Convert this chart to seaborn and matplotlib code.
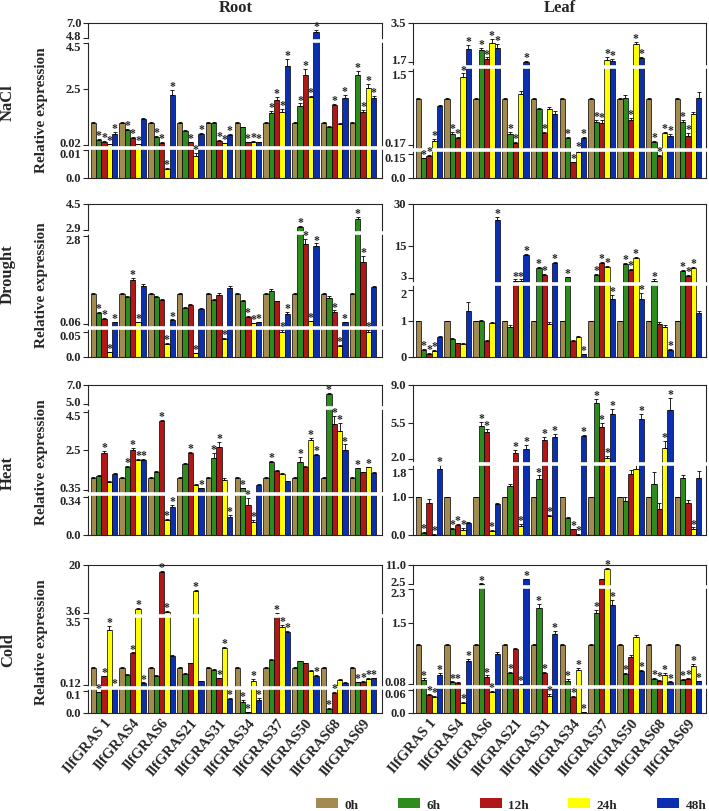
import numpy as np
import pandas as pd
import matplotlib
matplotlib.use("Agg")
import matplotlib.pyplot as plt
import matplotlib.transforms as mtrans
import seaborn as sns
from matplotlib.patches import Patch
from matplotlib.container import BarContainer

# ---------------- data ----------------
genes = ["IlfGRAS 1", "IlfGRAS4", "IlfGRAS6", "IlfGRAS21", "IlfGRAS31",
         "IlfGRAS34", "IlfGRAS37", "IlfGRAS50", "IlfGRAS68", "IlfGRAS69"]
times = ["0h", "6h", "12h", "24h", "48h"]
colors = ["#A38A4E", "#2E8B1E", "#B01818", "#FFFF00", "#0A2FB0"]

root_nacl = [[1.0, 0.24, 0.16, 0.06, 0.52], [1.0, 0.68, 0.33, 0.06, 1.16],
             [1.0, 0.36, 0.12, 0.0033, 2.24], [1.0, 0.65, 0.14, 0.0078, 0.52],
             [1.0, 0.97, 0.21, 0.11, 0.46], [1.0, 0.80, 0.14, 0.17, 0.14],
             [1.0, 1.42, 2.02, 1.49, 3.51], [1.0, 1.75, 3.10, 2.12, 5.66],
             [1.0, 0.80, 1.78, 0.95, 2.09], [1.0, 3.10, 1.49, 2.52, 2.09]]
root_nacl_err = [[0.04, 0.03, 0.03, 0.02, 0.06], [0.04, 0.06, 0.04, 0.02, 0.03],
                 [0.04, 0.04, 0.02, 0.0005, 0.2], [0.04, 0.03, 0.03, 0.001, 0.04],
                 [0.04, 0.06, 0.03, 0.02, 0.04], [0.04, 0.03, 0.03, 0.02, 0.02],
                 [0.04, 0.1, 0.1, 0.12, 0.3], [0.04, 0.1, 0.25, 0.08, 0.3],
                 [0.04, 0.05, 0.05, 0.04, 0.12], [0.04, 0.2, 0.08, 0.2, 0.1]]
root_nacl_sig = ["01111", "01110", "01111", "00111", "00111",
                 "00111", "01111", "01111", "00101", "01111"]
root_nacl_ticks = ["0.0", "0.01", "0.02", "2.5", "4.5", "4.8", "7.0"]

leaf_nacl = [[1.0, 0.123, 0.14, 0.25, 0.86], [1.0, 0.37, 0.29, 1.39, 2.33],
             [1.0, 2.28, 1.86, 2.60, 2.37], [1.0, 0.37, 0.20, 1.08, 1.72],
             [1.0, 0.81, 0.38, 0.82, 0.72], [1.0, 0.29, 0.098, 0.155, 0.30],
             [1.0, 0.58, 0.57, 1.82, 1.78], [1.0, 1.02, 0.61, 2.56, 1.90],
             [1.0, 0.22, 0.14, 0.38, 0.34], [1.0, 0.58, 0.34, 0.72, 1.02]]
leaf_nacl_err = [[0.02, 0.003, 0.003, 0.02, 0.02], [0.02, 0.03, 0.02, 0.06, 0.15],
                 [0.02, 0.08, 0.06, 0.15, 0.15], [0.02, 0.03, 0.02, 0.06, 0.06],
                 [0.02, 0.03, 0.03, 0.03, 0.06], [0.02, 0.02, 0.003, 0.003, 0.02],
                 [0.02, 0.04, 0.04, 0.12, 0.06], [0.02, 0.04, 0.04, 0.08, 0.06],
                 [0.02, 0.02, 0.003, 0.03, 0.03], [0.02, 0.04, 0.04, 0.04, 0.1]]
leaf_nacl_sig = ["01110", "01111", "01111", "01101", "00100",
                 "01111", "01111", "00111", "01111", "01100"]
leaf_nacl_ticks = ["0.0", "0.15", "0.17", "1.5", "1.7", "3.5"]

root_drought = [[1.0, 0.40, 0.215, 0.0087, 0.11], [1.0, 0.89, 1.42, 0.11, 1.23],
                [1.0, 0.91, 0.80, 0.025, 0.18], [1.0, 0.56, 0.65, 0.0067, 0.53],
                [1.0, 0.80, 0.96, 0.035, 1.18], [1.0, 0.76, 0.27, 0.08, 0.11],
                [1.0, 1.09, 0.76, 0.049, 0.37], [1.0, 3.05, 2.54, 0.14, 2.49],
                [1.0, 0.87, 0.44, 0.022, 0.11], [1.0, 3.57, 1.97, 0.049, 1.20]]
root_drought_err = [[0.03, 0.03, 0.03, 0.001, 0.02], [0.03, 0.03, 0.08, 0.02, 0.06],
                    [0.03, 0.03, 0.03, 0.002, 0.02], [0.03, 0.02, 0.02, 0.001, 0.03],
                    [0.03, 0.05, 0.05, 0.003, 0.07], [0.03, 0.03, 0.03, 0.01, 0.02],
                    [0.03, 0.07, 0.02, 0.003, 0.05], [0.03, 0.1, 0.15, 0.02, 0.07],
                    [0.03, 0.07, 0.04, 0.002, 0.02], [0.03, 0.15, 0.2, 0.003, 0.04]]
root_drought_sig = ["01111", "00110", "00011", "00010", "00010",
                    "00111", "00011", "01111", "00111", "01110"]
root_drought_ticks = ["0.0", "0.05", "0.06", "2.8", "2.9", "4.5"]

leaf_drought = [[1.0, 0.19, 0.09, 0.17, 0.55], [1.0, 0.50, 0.38, 0.36, 1.32],
                [1.0, 1.00, 0.43, 0.94, 24.4], [1.0, 0.83, 2.8, 2.8, 11.7],
                [1.0, 6.8, 4.3, 0.91, 8.6], [1.0, 3.4, 0.45, 0.57, 0.075],
                [1.0, 4.3, 8.6, 7.3, 1.7], [1.0, 8.2, 6.1, 10.4, 1.7],
                [1.0, 2.8, 0.91, 0.83, 0.19], [1.0, 5.8, 4.0, 6.8, 1.27]]
leaf_drought_err = [[0.02, 0.02, 0.01, 0.02, 0.03], [0.02, 0.04, 0.02, 0.02, 0.3],
                    [0.02, 0.03, 0.03, 0.05, 1.0], [0.02, 0.07, 0.1, 0.1, 0.4],
                    [0.02, 0.3, 0.3, 0.06, 0.4], [0.02, 0.15, 0.03, 0.02, 0.01],
                    [0.02, 0.3, 0.3, 0.3, 0.15], [0.02, 0.3, 0.4, 0.4, 0.2],
                    [0.02, 0.1, 0.06, 0.06, 0.03], [0.02, 0.3, 0.3, 0.3, 0.06]]
leaf_drought_sig = ["01110", "00000", "00001", "00111", "01101",
                    "01001", "01111", "01111", "01001", "01110"]
leaf_drought_ticks = ["0", "1", "2", "3", "15", "30"]

root_heat = [[1.0, 1.08, 2.30, 0.79, 1.20], [1.0, 1.56, 2.50, 1.95, 1.95],
             [1.0, 1.33, 4.01, 0.133, 0.25], [1.0, 1.74, 2.30, 0.63, 0.44],
             [1.0, 2.06, 2.66, 0.88, 0.159], [1.0, 0.44, 0.27, 0.117, 0.62],
             [1.0, 1.86, 1.38, 1.20, 0.81], [1.0, 1.86, 1.59, 3.01, 2.21],
             [1.0, 6.03, 3.87, 3.48, 2.48], [1.0, 1.50, 1.29, 1.56, 1.26]]
root_heat_err = [[0.04, 0.05, 0.15, 0.04, 0.05], [0.04, 0.05, 0.08, 0.05, 0.05],
                 [0.04, 0.04, 0.08, 0.01, 0.02], [0.04, 0.04, 0.06, 0.05, 0.04],
                 [0.04, 0.25, 0.25, 0.1, 0.02], [0.04, 0.04, 0.06, 0.015, 0.04],
                 [0.04, 0.05, 0.04, 0.04, 0.03], [0.04, 0.25, 0.05, 0.12, 0.08],
                 [0.04, 0.15, 0.4, 0.45, 0.3], [0.04, 0.05, 0.04, 0.04, 0.04]]
root_heat_sig = ["00100", "01111", "00111", "00101", "01101",
                 "01110", "01000", "01011", "01111", "01010"]
root_heat_ticks = ["0.0", "0.34", "0.35", "2.5", "4.5", "5.0", "7.0"]

leaf_heat = [[1.0, 0.05, 0.84, 0.01, 1.80], [1.0, 0.16, 0.27, 0.14, 0.33],
             [1.0, 5.2, 4.57, 0.11, 0.83], [1.0, 1.33, 2.55, 0.25, 2.96],
             [1.0, 1.51, 3.86, 0.51, 4.09], [1.0, 0.46, 0.15, 0.01, 4.25],
             [1.0, 7.3, 5.05, 2.1, 6.34], [1.0, 0.91, 1.64, 1.79, 5.83],
             [1.0, 1.37, 0.70, 3.10, 6.70], [1.0, 1.53, 0.86, 0.16, 1.54]]
leaf_heat_err = [[0.02, 0.02, 0.12, 0.01, 0.07], [0.02, 0.03, 0.03, 0.05, 0.02],
                 [0.02, 0.4, 0.3, 0.03, 0.02], [0.02, 0.04, 0.3, 0.05, 0.4],
                 [0.02, 0.1, 0.3, 0.03, 0.3], [0.02, 0.02, 0.02, 0.01, 0.1],
                 [0.02, 0.4, 0.4, 0.2, 0.4], [0.02, 0.1, 0.12, 0.12, 0.5],
                 [0.02, 0.35, 0.15, 0.6, 1.1], [0.02, 0.1, 0.08, 0.04, 0.2]]
leaf_heat_sig = ["01011", "01110", "01110", "00111", "01111",
                 "00111", "01111", "00001", "00011", "00010"]
leaf_heat_ticks = ["0.0", "1.0", "1.8", "2.0", "5.5", "9.0"]

root_cold = [[1.0, 0.093, 0.56, 2.92, 0.11], [1.0, 0.63, 1.72, 4.97, 0.22],
             [1.0, 0.59, 17.5, 4.05, 1.61], [1.0, 0.68, 1.22, 11.2, 0.31],
             [1.0, 0.88, 0.46, 2.0, 0.063], [1.0, 0.048, 0.003, 0.34, 0.06],
             [1.0, 1.40, 3.55, 3.04, 2.82], [1.0, 1.32, 1.22, 0.85, 0.59],
             [1.0, 0.02, 0.09, 0.38, 0.22], [1.0, 0.25, 0.28, 0.42, 0.46]]
root_cold_err = [[0.03, 0.003, 0.03, 0.2, 0.003], [0.03, 0.03, 0.05, 0.2, 0.03],
                 [0.03, 0.03, 0.4, 0.2, 0.03], [0.03, 0.03, 0.03, 0.2, 0.03],
                 [0.03, 0.03, 0.03, 0.06, 0.004], [0.03, 0.01, 0.002, 0.1, 0.008],
                 [0.03, 0.03, 0.15, 0.1, 0.05], [0.03, 0.03, 0.03, 0.03, 0.04],
                 [0.03, 0.003, 0.005, 0.03, 0.03], [0.03, 0.03, 0.03, 0.04, 0.03]]
root_cold_sig = ["01111", "00111", "00110", "00010", "00111",
                 "01111", "00111", "00001", "01100", "01111"]
root_cold_ticks = ["0.0", "0.1", "0.12", "3.5", "3.6", "20"]

leaf_cold = [[1.0, 0.18, 0.046, 0.04, 0.30], [1.0, 0.12, 0.10, 0.027, 0.61],
             [1.0, 2.7, 0.25, 0.053, 0.78], [1.0, 0.34, 0.90, 0.075, 4.6],
             [1.0, 1.85, 0.34, 0.045, 1.25], [1.0, 0.16, 0.04, 0.41, 0.002],
             [1.0, 1.74, 4.6, 9.2, 1.93], [1.0, 0.31, 0.72, 1.19, 0.38],
             [1.0, 0.20, 0.16, 0.30, 0.12], [1.0, 0.18, 0.20, 0.49, 0.14]]
leaf_cold_err = [[0.02, 0.03, 0.004, 0.004, 0.03], [0.02, 0.02, 0.02, 0.002, 0.06],
                 [0.02, 0.05, 0.03, 0.004, 0.05], [0.02, 0.03, 0.03, 0.005, 0.1],
                 [0.02, 0.1, 0.03, 0.004, 0.08], [0.02, 0.03, 0.004, 0.05, 0.001],
                 [0.02, 0.08, 0.1, 0.3, 0.12], [0.02, 0.03, 0.03, 0.04, 0.03],
                 [0.02, 0.02, 0.02, 0.03, 0.02], [0.02, 0.02, 0.02, 0.05, 0.02]]
leaf_cold_sig = ["01111", "01111", "01110", "01011", "01111",
                 "01111", "01011", "01001", "01111", "01111"]
leaf_cold_ticks = ["0.0", "0.06", "0.08", "1.5", "2.3", "2.5", "11.0"]

row_names = ["NaCl", "Drought", "Heat", "Cold"]
col_names = ["Root", "Leaf"]

# ---------------- layout (pixels) ----------------
W, H = 709, 812
col_x = [(88.3, 382.0), (413.3, 706.0)]
col_xlim = [(-0.545, 9.66), (-0.545, 9.62)]
row_y = [(24, 179.3), (205, 357.7), (386, 536), (566, 714)]

panels = [
    dict(vals=root_nacl, err=root_nacl_err, sig=root_nacl_sig, ticks=root_nacl_ticks,
         pix=[179.3, 151, 146, 89.7, 44.3, 39.3, 24], breaks=[(1, 2), (4, 5)], r=0, c=0),
    dict(vals=leaf_nacl, err=leaf_nacl_err, sig=leaf_nacl_sig, ticks=leaf_nacl_ticks,
         pix=[179.3, 155, 146, 71.7, 63.3, 24], breaks=[(1, 2), (3, 4)], r=0, c=1),
    dict(vals=root_drought, err=root_drought_err, sig=root_drought_sig, ticks=root_drought_ticks,
         pix=[357.7, 332.7, 325, 236.7, 230.7, 205], breaks=[(1, 2), (3, 4)], r=1, c=0),
    dict(vals=leaf_drought, err=leaf_drought_err, sig=leaf_drought_sig, ticks=leaf_drought_ticks,
         pix=[357.7, 322.3, 291, 279.3, 246.6, 205], breaks=[(2, 3)], r=1, c=1),
    dict(vals=root_heat, err=root_heat_err, sig=root_heat_sig, ticks=root_heat_ticks,
         pix=[536, 498.3, 491, 450.7, 413, 405, 386], breaks=[(1, 2), (4, 5)], r=2, c=0),
    dict(vals=leaf_heat, err=leaf_heat_err, sig=leaf_heat_sig, ticks=leaf_heat_ticks,
         pix=[536, 498.3, 469.7, 460, 423.7, 386], breaks=[(2, 3)], r=2, c=1),
    dict(vals=root_cold, err=root_cold_err, sig=root_cold_sig, ticks=root_cold_ticks,
         pix=[714, 691.7, 686, 619.3, 614, 566], breaks=[(1, 2), (3, 4)], r=3, c=0),
    dict(vals=leaf_cold, err=leaf_cold_err, sig=leaf_cold_sig, ticks=leaf_cold_ticks,
         pix=[714, 690.7, 685, 624.3, 590.3, 585, 566], breaks=[(1, 2), (4, 5)], r=3, c=1),
]

sns.set_style("ticks")
plt.rcParams["font.family"] = ["Liberation Serif", "DejaVu Serif"]
plt.rcParams["font.weight"] = "bold"
plt.rcParams["axes.linewidth"] = 0.8

fig = plt.figure(figsize=(W / 100, H / 100), dpi=100)


def make_scale(tvals, pix):
    tv = np.asarray(tvals, float)
    neg = -np.asarray(pix, float)

    def fwd(v):
        return np.interp(v, tv, neg)

    def inv(p):
        return np.interp(p, neg, tv)
    return fwd, inv


for p in panels:
    x0, x1 = col_x[p["c"]]
    yt, yb = row_y[p["r"]]
    ax = fig.add_axes([x0 / W, 1 - yb / H, (x1 - x0) / W, (yb - yt) / H])

    df = pd.DataFrame([(g, t, p["vals"][i][j]) for i, g in enumerate(genes)
                       for j, t in enumerate(times)], columns=["gene", "time", "value"])
    sns.barplot(data=df, x="gene", y="value", hue="time", order=genes, hue_order=times,
                palette=colors, saturation=1, errorbar=None, width=0.925,
                edgecolor="black", linewidth=0.5, legend=False, ax=ax)
    bar_conts = [c for c in ax.containers if isinstance(c, BarContainer)]

    tvals = [float(t) for t in p["ticks"]]
    fwd, inv = make_scale(tvals, p["pix"])
    ax.set_yscale("function", functions=(fwd, inv))
    ax.set_ylim(0, tvals[-1])
    ax.set_xlim(*col_xlim[p["c"]])

    # error bars and asterisks
    for j, cont in enumerate(bar_conts):
        xs, ys, es = [], [], []
        for i, rect in enumerate(cont.patches):
            xs.append(rect.get_x() + rect.get_width() / 2)
            ys.append(p["vals"][i][j])
            es.append(p["err"][i][j])
        xs, ys, es = np.array(xs), np.array(ys), np.array(es)
        ax.errorbar(xs, ys, yerr=[np.zeros_like(es), es], fmt="none", ecolor="black",
                    elinewidth=0.6, capsize=1.3, capthick=0.6, zorder=3)
        for i in range(len(xs)):
            if p["sig"][i][j] == "1":
                ax.annotate("*", (xs[i], ys[i] + es[i]), xytext=(0, -1.5),
                            textcoords="offset points", ha="center", va="bottom",
                            fontsize=8.5, fontweight="bold", zorder=7)

    # white break bands
    lower_idx, upper_idx = set(), set()
    for a, b in p["breaks"]:
        lower_idx.add(a)
        upper_idx.add(b)
        mid_pix = (p["pix"][a] + p["pix"][b]) / 2
        v = float(inv(-mid_pix))
        ax.plot([-0.02, 1.02], [v, v], transform=ax.get_yaxis_transform(),
                color="white", lw=2.6, clip_on=False, zorder=6, solid_capstyle="butt")

    # y ticks with labels nudged apart at the breaks
    ax.set_yticks(tvals)
    ax.set_yticklabels([])
    ax.yaxis.set_minor_locator(matplotlib.ticker.NullLocator())
    ax.tick_params(axis="y", length=3.5, width=0.8)
    base = ax.get_yaxis_transform()
    for k, (tv, lab) in enumerate(zip(tvals, p["ticks"])):
        dy = 0.0
        if k in lower_idx:
            dy = -3.0
        elif k in upper_idx:
            dy = 1.5
        tr = base + mtrans.ScaledTranslation(-5.0 / 72, dy / 72, fig.dpi_scale_trans)
        ax.text(0, tv, lab, transform=tr, ha="right", va="center", fontsize=9,
                fontweight="bold", clip_on=False)

    ax.tick_params(axis="x", length=0, pad=2)
    ax.set_xlabel("")
    ax.set_ylabel("")
    ax.set_xticks(range(len(genes)))
    if p["r"] == 3:
        ax.set_xticklabels(genes, rotation=50, ha="right", rotation_mode="anchor",
                           fontsize=10.5, fontweight="bold")
    else:
        ax.set_xticklabels([])
    for s in ax.spines.values():
        s.set_linewidth(0.8)

# titles and labels
fig.text(236 / W, 1 - 8 / H, col_names[0], ha="center", va="center", fontsize=12, fontweight="bold")
fig.text(560 / W, 1 - 8 / H, col_names[1], ha="center", va="center", fontsize=12, fontweight="bold")
for name, yc in zip(row_names, [103, 274, 473, 650]):
    fig.text(8 / W, 1 - yc / H, name, rotation=90, ha="center", va="center",
             fontsize=12, fontweight="bold")
for yc in [110, 285, 462, 642]:
    fig.text(41 / W, 1 - yc / H, "Relative expression", rotation=90, ha="center",
             va="center", fontsize=11, fontweight="bold")

handles = [Patch(facecolor=c, edgecolor="none") for c in colors]
fig.legend(handles, times, loc="center left", bbox_to_anchor=(316 / W, 6.5 / H), ncol=5,
           frameon=False, handlelength=1.65, handleheight=0.8, handletextpad=0.5,
           columnspacing=3.0, borderpad=0, borderaxespad=0,
           prop={"weight": "bold", "size": 9.5})

fig.savefig("out.png", dpi=100)
